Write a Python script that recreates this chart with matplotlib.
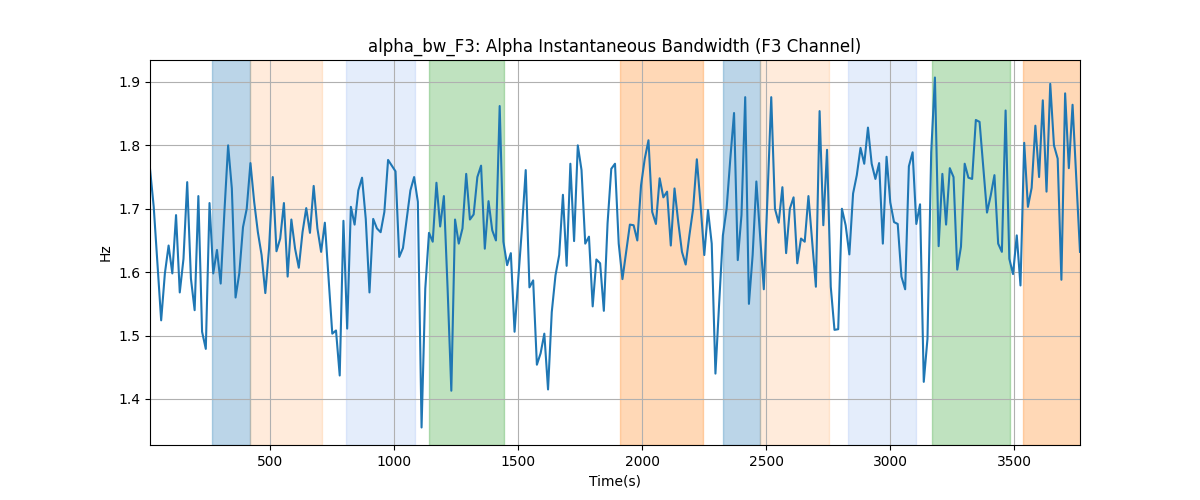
import numpy as np
import matplotlib
matplotlib.use("Agg")
import matplotlib.pyplot as plt

t_start = 15
t_step = 15
values = [
    1.763, 1.703, 1.614, 1.524, 1.598, 1.642, 1.598, 1.690, 1.568, 1.621,
    1.742, 1.590, 1.540, 1.720, 1.506, 1.479, 1.709, 1.598, 1.635, 1.582,
    1.695, 1.800, 1.732, 1.560, 1.598, 1.671, 1.700, 1.772, 1.711, 1.663,
    1.627, 1.567, 1.637, 1.750, 1.633, 1.653, 1.709, 1.593, 1.683, 1.637,
    1.607, 1.663,
    1.701, 1.662, 1.736, 1.669, 1.632, 1.678, 1.590, 1.503, 1.508, 1.437,
    1.681, 1.511, 1.703, 1.675, 1.729, 1.749, 1.684, 1.568, 1.684, 1.669,
    1.663, 1.695, 1.777, 1.768, 1.759, 1.624, 1.638, 1.684, 1.729, 1.750,
    1.711, 1.355, 1.574, 1.662, 1.648, 1.741, 1.672, 1.720, 1.574, 1.413,
    1.683, 1.645,
    1.669, 1.755, 1.683, 1.691, 1.750, 1.768, 1.637, 1.712, 1.666, 1.650,
    1.862, 1.648, 1.611, 1.630, 1.506, 1.590, 1.670, 1.761, 1.576, 1.587,
    1.454, 1.472, 1.503, 1.415, 1.537, 1.595, 1.627, 1.722, 1.610, 1.771,
    1.649, 1.800, 1.761, 1.645, 1.656, 1.546, 1.620, 1.614, 1.539, 1.677,
    1.763, 1.771,
    1.645, 1.589, 1.632, 1.675, 1.674, 1.650, 1.737, 1.779, 1.808, 1.695,
    1.676, 1.748, 1.718, 1.727, 1.642, 1.732, 1.679, 1.632, 1.612, 1.658,
    1.700, 1.778, 1.706, 1.627, 1.698, 1.645, 1.440, 1.551, 1.658, 1.700,
    1.779, 1.851, 1.619, 1.690, 1.876, 1.550, 1.627, 1.743, 1.658, 1.573,
    1.720,
    1.876, 1.700, 1.678, 1.734, 1.630, 1.700, 1.718, 1.614, 1.653, 1.648,
    1.720, 1.648, 1.577, 1.854, 1.674, 1.793, 1.577, 1.509, 1.510, 1.700,
    1.674, 1.628, 1.724, 1.753, 1.796, 1.771, 1.828, 1.771, 1.747, 1.772,
    1.645, 1.782, 1.710, 1.679, 1.676, 1.593, 1.573, 1.767, 1.789, 1.676,
    1.707, 1.427,
    1.495, 1.789, 1.907, 1.641, 1.755, 1.675, 1.764, 1.750, 1.604, 1.640,
    1.771, 1.749, 1.747, 1.840, 1.837, 1.765, 1.694, 1.721, 1.753, 1.645,
    1.632, 1.855, 1.621, 1.597, 1.658, 1.579, 1.804, 1.703, 1.733, 1.831,
    1.750, 1.871, 1.727, 1.897, 1.800, 1.779, 1.588, 1.882, 1.764, 1.864,
    1.747, 1.632,
]

span_starts = [267, 419, 807, 1142, 1912, 2325, 2476, 2828, 3170, 3537]
span_ends = [419, 709, 1083, 1442, 2245, 2476, 2753, 3105, 3483, 3800]
span_kinds = ["blue", "lorange", "lblue", "green", "orange",
              "blue", "lorange", "lblue", "green", "orange"]

span_styles = {
    "blue": ("tab:blue", 0.3),
    "lorange": ("tab:orange", 0.15),
    "lblue": ("cornflowerblue", 0.17),
    "green": ("tab:green", 0.3),
    "orange": ("tab:orange", 0.3),
}

x = t_start + t_step * np.arange(len(values))

fig, ax = plt.subplots(figsize=(12, 5), dpi=100)
for s, e, k in zip(span_starts, span_ends, span_kinds):
    c, a = span_styles[k]
    ax.axvspan(s, e, color=c, alpha=a)
ax.plot(x, values, color="tab:blue")
ax.set_xlim(x[0], x[-1])
ax.set_title("alpha_bw_F3: Alpha Instantaneous Bandwidth (F3 Channel)")
ax.set_xlabel("Time(s)")
ax.set_ylabel("Hz")
ax.grid(True)
fig.savefig("out.png")
